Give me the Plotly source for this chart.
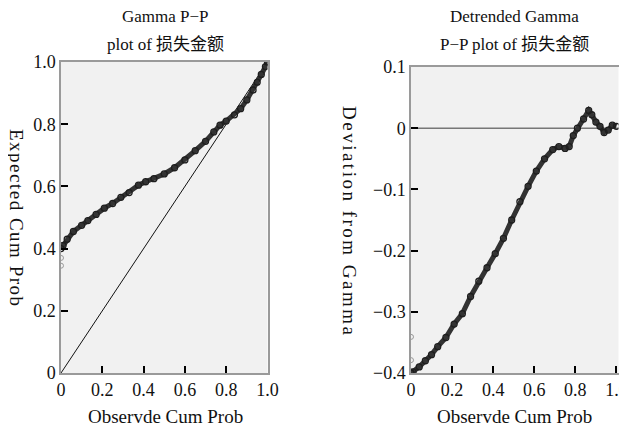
import plotly.graph_objects as go

# Left: Gamma P-P plot (observed vs expected cumulative probability)
pp_x = [0.0, 0.01, 0.03, 0.06, 0.10, 0.13, 0.17, 0.21, 0.25, 0.29, 0.33, 0.375, 0.41, 0.45,
        0.50, 0.55, 0.60, 0.65, 0.70, 0.74, 0.77, 0.80, 0.84, 0.87, 0.90, 0.93, 0.95, 0.97, 0.99, 1.0]
pp_y = [0.40, 0.41, 0.43, 0.455, 0.475, 0.49, 0.51, 0.53, 0.545, 0.565, 0.58, 0.604, 0.615, 0.625,
        0.64, 0.66, 0.685, 0.715, 0.745, 0.775, 0.797, 0.81, 0.83, 0.85, 0.878, 0.91, 0.935, 0.96, 0.985, 1.0]
pp_out_x = [0.0, 0.0]
pp_out_y = [0.37, 0.345]
diag = [0.0, 1.0]

# Right: Detrended Gamma P-P plot
dt_x = [0.0, 0.01, 0.04, 0.07, 0.10, 0.13, 0.17, 0.21, 0.25, 0.29, 0.33, 0.37, 0.41, 0.45, 0.49,
        0.53, 0.57, 0.61, 0.65, 0.69, 0.72, 0.75, 0.77, 0.79, 0.81, 0.84, 0.865, 0.88, 0.90, 0.92,
        0.94, 0.96, 0.98, 1.0]
dt_y = [-0.40, -0.398, -0.39, -0.38, -0.37, -0.357, -0.342, -0.32, -0.303, -0.275, -0.25, -0.228,
        -0.205, -0.18, -0.15, -0.12, -0.095, -0.07, -0.05, -0.035, -0.03, -0.033, -0.03, -0.012,
        0.0, 0.015, 0.029, 0.022, 0.01, 0.003, -0.007, -0.003, 0.005, 0.003]
dt_out_x = [0.0, 0.0]
dt_out_y = [-0.341, -0.379]
zero_x = [0.0, 1.01]
zero_y = [0.0, 0.0]

x_ticks = [0, 0.2, 0.4, 0.6, 0.8, 1.0]
x_ticktext = ["0", "0.2", "0.4", "0.6", "0.8", "1.0"]
yl_ticks = [0, 0.2, 0.4, 0.6, 0.8, 1.0]
yl_ticktext = ["0", "0.2", "0.4", "0.6", "0.8", "1.0"]
yr_ticks = [-0.4, -0.3, -0.2, -0.1, 0, 0.1]
yr_ticktext = ["\u22120.4", "\u22120.3", "\u22120.2", "\u22120.1", "0", "0.1"]

FONT = "Liberation Serif, Noto Sans CJK SC, serif"
BAND = "#333333"

# figure placed inside the page body (8px default margin)
W, H, OFF = 632, 421, 8


def px(x):
    return (x - OFF) / W


def py(y):
    return 1 - (y - OFF) / H


fig = go.Figure()

# left
fig.add_trace(go.Scatter(x=diag, y=diag, mode="lines", line=dict(color="#111", width=1),
                         xaxis="x", yaxis="y", hoverinfo="skip"))
fig.add_trace(go.Scatter(x=pp_out_x, y=pp_out_y, mode="markers",
                         marker=dict(symbol="circle-open", size=5, color="#999", line=dict(width=1)),
                         xaxis="x", yaxis="y"))
fig.add_trace(go.Scatter(x=pp_x, y=pp_y, mode="lines+markers",
                         line=dict(color=BAND, width=5),
                         marker=dict(symbol="circle-open", size=6, color="#1e1e1e", line=dict(width=1.3)),
                         xaxis="x", yaxis="y"))

# right
fig.add_trace(go.Scatter(x=zero_x, y=zero_y, mode="lines", line=dict(color="#777", width=1.5),
                         xaxis="x2", yaxis="y2", hoverinfo="skip"))
fig.add_trace(go.Scatter(x=dt_out_x, y=dt_out_y, mode="markers",
                         marker=dict(symbol="circle-open", size=5, color="#999", line=dict(width=1)),
                         xaxis="x2", yaxis="y2"))
fig.add_trace(go.Scatter(x=dt_x, y=dt_y, mode="lines+markers",
                         line=dict(color=BAND, width=5),
                         marker=dict(symbol="circle-open", size=6, color="#1e1e1e", line=dict(width=1.3)),
                         xaxis="x2", yaxis="y2"))

axis_common = dict(showgrid=False, zeroline=False, showline=True, linecolor="#9a9a9a", linewidth=1.5,
                   mirror=True, ticks="inside", ticklen=7, tickwidth=2, tickcolor="#000",
                   automargin=False, ticklabeloverflow="allow",
                   tickfont=dict(family=FONT, size=18, color="#111"))

fig.update_layout(
    width=W, height=H,
    margin=dict(l=0, r=0, t=0, b=0),
    paper_bgcolor="white", plot_bgcolor="#f1f1f1",
    showlegend=False,
    font=dict(family=FONT, color="#111"),
    xaxis=dict(domain=[px(61), px(267.5)], range=[0, 1.0], tickvals=x_ticks, ticktext=x_ticktext,
               anchor="y", **axis_common),
    yaxis=dict(domain=[py(373), py(62)], range=[0, 1.0], tickvals=yl_ticks, ticktext=yl_ticktext,
               anchor="x", **axis_common),
    xaxis2=dict(domain=[px(411), px(618.5)], range=[0, 1.01], tickvals=x_ticks, ticktext=x_ticktext,
                anchor="y2", **axis_common),
    yaxis2=dict(domain=[py(373), py(67)], range=[-0.4, 0.1], tickvals=yr_ticks, ticktext=yr_ticktext,
                anchor="x2", **axis_common),
)

ann = dict(showarrow=False, xref="paper", yref="paper", xanchor="center", yanchor="middle",
           font=dict(family=FONT, size=17, color="#111"))
fig.add_annotation(text="Gamma P\u2212P", x=px(165), y=py(17), **ann)
fig.add_annotation(text="plot of 损失金额", x=px(165), y=py(45), **ann)
fig.add_annotation(text="Detrended Gamma", x=px(515), y=py(17), **ann)
fig.add_annotation(text="P\u2212P plot of 损失金额", x=px(515), y=py(45), **ann)

lab = dict(showarrow=False, xref="paper", yref="paper", xanchor="center", yanchor="middle",
           font=dict(family=FONT, size=19, color="#111"))
fig.add_annotation(text="Observde Cum Prob", x=px(165), y=py(416), **lab)
fig.add_annotation(text="Observde Cum Prob", x=px(515), y=py(416), **lab)
fig.add_annotation(text='<span style="letter-spacing:1.5px">Expected Cum Prob</span>',
                   x=px(17), y=py(218), textangle=90, **lab)
fig.add_annotation(text='<span style="letter-spacing:2.5px">Deviation from Gamma</span>',
                   x=px(350), y=py(222), textangle=90, **lab)

fig.write_html("out.html")
